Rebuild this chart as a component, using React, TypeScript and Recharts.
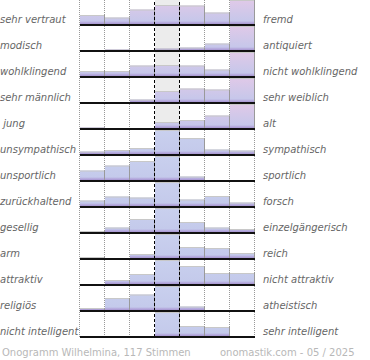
import React from 'react';
import { BarChart, Bar, XAxis, YAxis, ReferenceLine, ReferenceArea } from 'recharts';

// answer scale, 1 = left pole ... 7 = right pole
const CATS = ['1', '2', '3', '4', '5', '6', '7'];

const LEFT_LABELS = [
  'sehr vertraut', 'modisch', 'wohlklingend', 'sehr männlich', ' jung', 'unsympathisch',
  'unsportlich', 'zurückhaltend', 'gesellig', 'arm', 'attraktiv', 'religiös', 'nicht intelligent',
];

const RIGHT_LABELS = [
  'fremd', 'antiquiert', 'nicht wohlklingend', 'sehr weiblich', 'alt', 'sympathisch',
  'sportlich', 'forsch', 'einzelgängerisch', 'reich', 'nicht attraktiv', 'atheistisch', 'sehr intelligent',
];

// bar heights per row (25 = full / clipped)
const ROW_VALUES = [
  [10, 7.5, 15.5, 20, 19.5, 12.5, 25],
  [0.5, 1.5, 0.5, 2.5, 3.5, 7.5, 25],
  [6, 6, 11.5, 12, 11.5, 7.5, 25],
  [0, 0, 3.5, 12, 14.5, 13.5, 25],
  [1.5, 0.5, 1, 7, 9, 13.5, 25],
  [3.5, 5, 7, 25, 17, 5.5, 4.5],
  [10.5, 15.5, 20, 25, 4.5, 0, 0],
  [6.5, 10.5, 9.5, 25, 7.5, 11, 4.5],
  [2, 5.5, 14, 25, 11, 5.5, 4],
  [2, 0.5, 5, 25, 12, 11, 6],
  [0.5, 5, 11, 25, 19, 12, 12],
  [3, 13, 16.5, 25, 4.5, 1, 0.5],
  [0.5, 0.5, 0.5, 25, 11, 10, 0],
];

const FOOTER_LEFT = 'Onogramm Wilhelmina, 117 Stimmen';
const FOOTER_RIGHT = 'onomastik.com - 05 / 2025';

const ROW_H = 26;
const PINK_ROW_COUNT = 5;

const PINK_STOPS: [string, string][] = [
  ['0%', '#e0c9e8'], ['45%', '#d2c8e9'], ['84%', '#c6c7ea'], ['92%', '#b2a4da'], ['100%', '#9c8ac8'],
];
const BLUE_STOPS: [string, string][] = [
  ['0%', '#c9d0ee'], ['84%', '#c4caeb'], ['92%', '#b2a4da'], ['100%', '#9c8ac8'],
];

const BarShape = (props: any) => {
  const { x, y, width, height, gid } = props;
  if (!height || height <= 0) return null;
  return (
    <g>
      <rect x={x} y={y} width={width} height={height} fill={`url(#${gid})`} />
      <path d={`M${x},${y + 0.5}H${x + width}`} stroke="#c8c8c8" fill="none" />
      <path d={`M${x + width - 0.5},${y}V${y + height}`} stroke="#9a9a9a" fill="none" />
    </g>
  );
};

// crisp 1px vertical line, nudged half a pixel
const vline = (stroke: string, dash: string) => (p: any) => (
  <line
    x1={p.x1 - 0.5}
    x2={p.x2 - 0.5}
    y1={p.y1}
    y2={p.y2}
    stroke={stroke}
    strokeDasharray={dash}
    strokeWidth={1}
  />
);

const Row = ({ index }: { index: number }) => {
  const data = CATS.map((c, k) => ({ cat: c, v: ROW_VALUES[index][k] }));
  const gid = `fill-${index}`;
  const stops = index < PINK_ROW_COUNT ? PINK_STOPS : BLUE_STOPS;
  return (
    <BarChart
      width={177}
      height={ROW_H}
      data={data}
      margin={{ top: 0, right: 1, bottom: 1, left: 1 }}
      barCategoryGap={0}
      barGap={0}
    >
      <defs>
        <linearGradient id={gid} gradientUnits="userSpaceOnUse" x1={0} y1={0} x2={0} y2={25}>
          {stops.map(([o, c]) => <stop key={o} offset={o} stopColor={c} />)}
        </linearGradient>
      </defs>
      <XAxis dataKey="cat" hide />
      <YAxis hide domain={[0, 25]} allowDataOverflow />
      <ReferenceArea x1="4" x2="4" fill="#ececec" fillOpacity={1} stroke="none" />
      <Bar dataKey="v" isAnimationActive={false} shape={(p: any) => <BarShape {...p} gid={gid} />} />
      {CATS.map(c => {
        const center = c === '4' || c === '5';
        return (
          <ReferenceLine
            key={c}
            x={c}
            position="start"
            shape={center ? vline('#000', '3 2') : vline('#999', '1 1')}
          />
        );
      })}
      <ReferenceLine x="7" position="end" shape={vline('#999', '1 1')} />
      <ReferenceLine y={0} stroke="#111" strokeWidth={2} />
    </BarChart>
  );
};

const labelStyle: React.CSSProperties = {
  position: 'absolute',
  fontSize: 10,
  lineHeight: '12px',
  fontStyle: 'italic',
  color: '#666',
  whiteSpace: 'pre',
};

export default function App() {
  return (
    <div
      style={{
        position: 'absolute', left: 0, top: 0, width: 370, height: 360,
        background: '#fff', fontFamily: '"DejaVu Sans", sans-serif', overflow: 'hidden',
      }}
    >
      {ROW_VALUES.map((_, i) => (
        <div key={i} style={{ position: 'absolute', left: 79, top: i * ROW_H, width: 177, height: ROW_H }}>
          <Row index={i} />
        </div>
      ))}
      {LEFT_LABELS.map((t, i) => (
        <div key={'l' + i} style={{ ...labelStyle, left: 0, top: 14 + i * ROW_H }}>{t}</div>
      ))}
      {RIGHT_LABELS.map((t, i) => (
        <div key={'r' + i} style={{ ...labelStyle, left: 263, top: 14 + i * ROW_H }}>{t}</div>
      ))}
      <div style={{ ...labelStyle, fontStyle: 'normal', color: '#b8b8b8', left: 2, top: 347 }}>{FOOTER_LEFT}</div>
      <div style={{ ...labelStyle, fontStyle: 'normal', color: '#b8b8b8', left: 220, top: 347 }}>{FOOTER_RIGHT}</div>
    </div>
  );
}
